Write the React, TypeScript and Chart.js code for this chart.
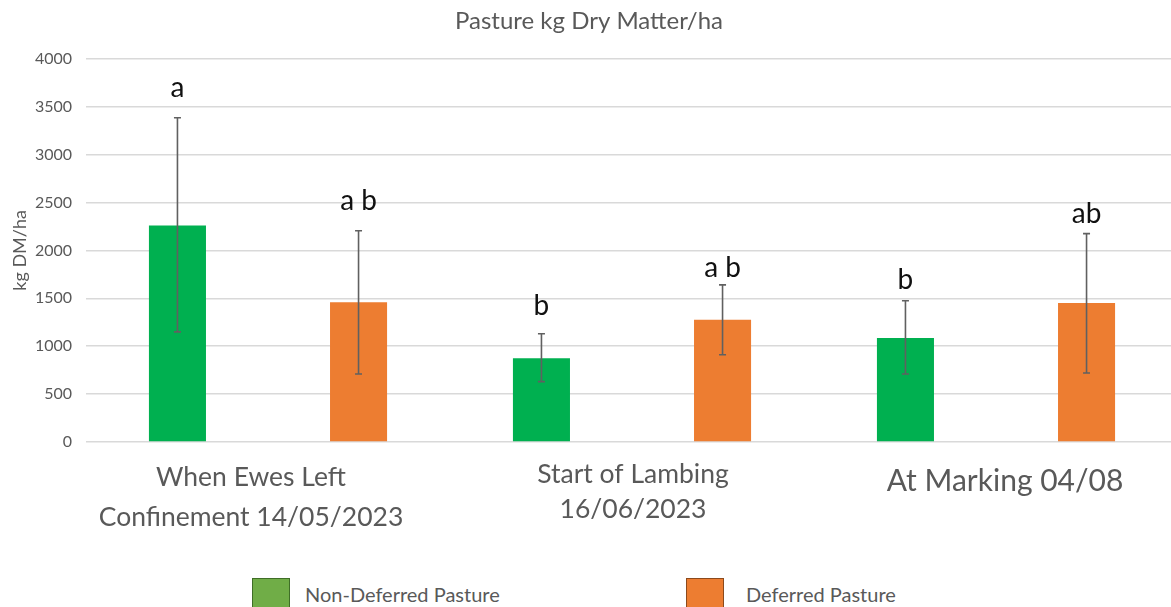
import React, { useEffect, useRef } from "react";
import { Chart, registerables } from "chart.js";

Chart.register(...registerables);

// ---- data ----
const categories: (string | string[])[] = [
  ["When Ewes Left", "Confinement 14/05/2023"],
  ["Start of Lambing", "16/06/2023"],
  "At Marking 04/08",
];
const seriesNames = ["Non-Deferred Pasture", "Deferred Pasture"];
const nonDeferred = [2260, 875, 1085];
const nonDeferredLow = [1150, 630, 710];
const nonDeferredHigh = [3385, 1130, 1475];
const deferred = [1460, 1275, 1450];
const deferredLow = [710, 910, 720];
const deferredHigh = [2205, 1640, 2175];
const nonDeferredLetters = ["a", "b", "b"];
const deferredLetters = ["a b", "a b", "ab"];
// baseline of the significance letters, in data units
const nonDeferredLetterY = [3600, 1330, 1600];
const deferredLetterY = [2420, 1720, 2290];
const yTicks = [0, 500, 1000, 1500, 2000, 2500, 3000, 3500, 4000];
const titleText = "Pasture kg Dry Matter/ha";
const yTitleText = "kg DM/ha";

// ---- styling ----
const barColors = ["#00B050", "#ED7D31"];
const legendColors = ["#70AD47", "#ED7D31"];
const legendBorders = ["#3F6E27", "#8C4A1C"];
const FONT = "Lato, 'Open Sans', sans-serif";
const xLabelSizes = [26.5, 26.5, 30];
const xLabelLineHeights = [1.51, 1.32, 1.6];
const xLabelShift = [-17, 1, 9];

const errorBarPlugin = {
  id: "errorBarsAndLetters",
  afterDatasetsDraw(chart: any) {
    const { ctx } = chart;
    const yScale = chart.scales.y;
    chart.data.datasets.forEach((ds: any, di: number) => {
      const meta = chart.getDatasetMeta(di);
      meta.data.forEach((bar: any, i: number) => {
        const x = bar.x;
        const yLo = yScale.getPixelForValue(ds.errLow[i]);
        const yHi = yScale.getPixelForValue(ds.errHigh[i]);
        ctx.save();
        ctx.strokeStyle = "#606060";
        ctx.lineWidth = 1.6;
        ctx.beginPath();
        ctx.moveTo(x, yLo);
        ctx.lineTo(x, yHi);
        ctx.moveTo(x - 3.5, yLo);
        ctx.lineTo(x + 3.5, yLo);
        ctx.moveTo(x - 3.5, yHi);
        ctx.lineTo(x + 3.5, yHi);
        ctx.stroke();
        ctx.fillStyle = "#111111";
        ctx.font = `28px ${FONT}`;
        ctx.textAlign = "center";
        ctx.textBaseline = "alphabetic";
        ctx.fillText(ds.letters[i], x, yScale.getPixelForValue(ds.letterY[i]));
        ctx.restore();
      });
    });
  },
};

const labelShiftPlugin = {
  id: "labelShift",
  beforeDraw(chart: any) {
    const items = chart.scales.x.getLabelItems();
    items.forEach((it: any, i: number) => {
      if (!it._shifted) {
        it.options.translation[0] += xLabelShift[i] || 0;
        it._shifted = true;
      }
    });
  },
};

export default function App() {
  const canvasRef = useRef<HTMLCanvasElement | null>(null);

  useEffect(() => {
    if (!canvasRef.current) return;
    Chart.defaults.font.family = FONT;
    const chart = new Chart(canvasRef.current, {
      type: "bar",
      data: {
        labels: categories,
        datasets: [
          {
            label: seriesNames[0],
            data: nonDeferred,
            backgroundColor: barColors[0],
            errLow: nonDeferredLow,
            errHigh: nonDeferredHigh,
            letters: nonDeferredLetters,
            letterY: nonDeferredLetterY,
            categoryPercentage: 0.995,
            barPercentage: 0.315,
          } as any,
          {
            label: seriesNames[1],
            data: deferred,
            backgroundColor: barColors[1],
            errLow: deferredLow,
            errHigh: deferredHigh,
            letters: deferredLetters,
            letterY: deferredLetterY,
            categoryPercentage: 0.995,
            barPercentage: 0.315,
          } as any,
        ],
      },
      options: {
        responsive: false,
        animation: false,
        layout: { padding: { left: 0, right: 2, top: 0, bottom: 0 } },
        plugins: {
          legend: { display: false },
          tooltip: { enabled: false },
          title: {
            display: true,
            text: titleText,
            color: "#595959",
            font: { size: 24, weight: "normal", family: FONT, lineHeight: 1.2 },
            padding: { top: 7, bottom: 23 },
          },
        },
        scales: {
          x: {
            grid: { display: false, drawTicks: false },
            border: { display: false },
            ticks: {
              color: "#595959",
              padding: 15,
              maxRotation: 0,
              autoSkip: false,
              font: (c: any) => ({
                family: FONT,
                size: xLabelSizes[c.index] ?? 26,
                lineHeight: xLabelLineHeights[c.index] ?? 1.5,
              }),
            },
            afterFit: (scale: any) => {
              scale.height = 118;
            },
          },
          y: {
            min: 0,
            max: 4000,
            afterBuildTicks: (scale: any) => {
              scale.ticks = yTicks.map((v) => ({ value: v }));
            },
            grid: { color: "#D9D9D9", lineWidth: 1.5, drawTicks: false },
            border: { display: false },
            ticks: {
              color: "#595959",
              padding: 14,
              font: { family: FONT, size: 16 },
              callback: (v: any) => String(v),
            },
            title: {
              display: true,
              text: yTitleText,
              color: "#595959",
              font: { family: FONT, size: 18 },
              padding: { top: 9, bottom: 0 },
            },
            afterFit: (scale: any) => {
              scale.width = 86;
            },
          },
        },
      },
      plugins: [errorBarPlugin, labelShiftPlugin],
    });
    return () => chart.destroy();
  }, []);

  const legendLeft = [252, 686];
  const legendGap = [15, 22];

  return (
    <div
      style={{
        position: "fixed",
        left: 0,
        top: 0,
        width: 1171,
        height: 607,
        overflow: "hidden",
        background: "#ffffff",
      }}
    >
      <canvas
        ref={canvasRef}
        width={1180}
        height={560}
        style={{ position: "absolute", left: 0, top: 0, width: 1180, height: 560 }}
      />
      {seriesNames.map((name, i) => (
        <div
          key={name}
          style={{
            position: "absolute",
            top: 578,
            left: legendLeft[i],
            display: "flex",
            alignItems: "flex-start",
            fontFamily: FONT,
            fontSize: 20,
            color: "#595959",
            whiteSpace: "nowrap",
          }}
        >
          <div
            style={{
              width: 36,
              height: 36,
              background: legendColors[i],
              border: `1px solid ${legendBorders[i]}`,
            }}
          />
          <div style={{ marginLeft: legendGap[i], lineHeight: "32px" }}>{name}</div>
        </div>
      ))}
    </div>
  );
}
